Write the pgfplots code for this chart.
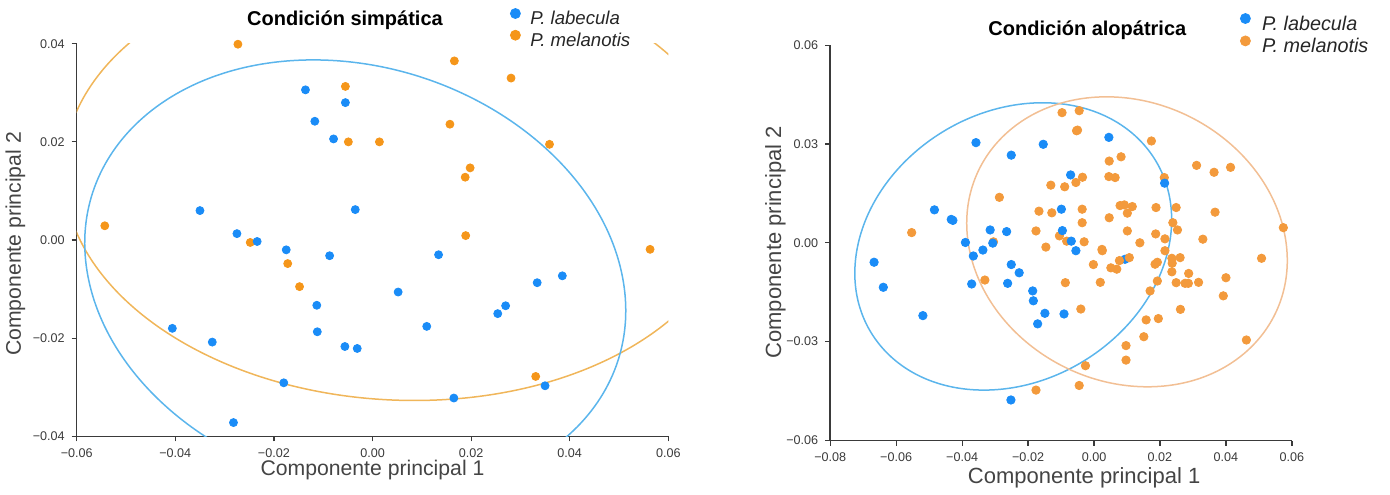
\documentclass[border=0pt]{standalone}
\usepackage{fontspec}
\setmainfont{Liberation Sans}
\usepackage{pgfplots}
\pgfplotsset{compat=1.18}
\definecolor{cblue}{HTML}{1A8CF7}
\definecolor{corange}{HTML}{F5961A}
\definecolor{corange2}{HTML}{F39A3C}
\definecolor{eblue}{HTML}{5BB5EC}
\definecolor{eorange}{HTML}{F0B65A}
\definecolor{eorange2}{HTML}{F2BF94}
\definecolor{axisgray}{HTML}{3A3A3A}
\definecolor{labgray}{HTML}{444444}
\newcommand{\pcaellipse}[7]{%
  \pgfplotsextra{\begin{pgfscope}\pgfsetstrokecolor{#1}\pgfsetlinewidth{0.75pt}%
  \pgfpathellipse{\pgfplotspointaxisxy{#2}{#3}}{\pgfplotspointaxisdirectionxy{#4}{#5}}{\pgfplotspointaxisdirectionxy{#6}{#7}}%
  \pgfusepath{stroke}\end{pgfscope}}}
\pgfplotsset{
  pcaaxis/.style={
    scale only axis,
    scaled ticks=false,
    every axis title shift=0pt,
    axis x line*=bottom, axis y line*=left,
    axis line style={axisgray, line width=0.75pt},
    tick align=outside,
    major tick length=2.5pt,
    tick style={axisgray, line width=0.6pt},
    ticklabel style={font=\fontsize{6.3}{7}\selectfont, text=axisgray},
    legend cell align=left,
    clip=true,
  }
}
\begin{document}
\begin{tikzpicture}
\path[use as bounding box] (0pt,0pt) rectangle (695pt,247pt);
% ---------------- left: simpatrica
\begin{axis}[pcaaxis,
  at={(38.35pt,28.85pt)}, anchor=south west,
  width=295.8pt, height=196.3pt,
  xmin=-0.06, xmax=0.06, ymin=-0.04, ymax=0.04,
  xtick={-0.06,-0.04,-0.02,0,0.02,0.04,0.06},
  xticklabels={−0.06,−0.04,−0.02,0.00,0.02,0.04,0.06},
  ytick={-0.04,-0.02,0,0.02,0.04},
  yticklabels={−0.04,−0.02,0.00,0.02,0.04},
  xlabel={Componente principal 1}, ylabel={Componente principal 2},
  label style={font=\fontsize{10.6}{12}\selectfont, text=labgray},
  xlabel style={at={(axis description cs:0.5,-0.0858)}, anchor=center},
  ylabel style={at={(axis description cs:-0.1035,0.49)}, anchor=center},
  title={Condición simpática},
  title style={font=\bfseries\fontsize{10}{12}\selectfont, at={(axis description cs:0.4535,1.0604)}, anchor=center},
  legend style={draw=none, fill=none, inner sep=0pt, outer sep=0pt,
    font=\itshape\fontsize{9.3}{10}\selectfont, text=black!85,
    at={(axis description cs:0.7324,1.0907)}, anchor=north west,
    column sep=4.5pt, row sep=0pt,
    nodes={inner sep=0.25pt, text height=7pt, text depth=2.2pt}},
]
\addlegendimage{legend image code/.code={\fill[cblue] (0pt,3.3pt) circle (2.5pt);}}
\addlegendentry{P. labecula}
\addlegendimage{legend image code/.code={\fill[corange] (0pt,3.3pt) circle (2.5pt);}}
\addlegendentry{P. melanotis}
\pcaellipse{eorange}{0.0057}{0.0121}{-0.0028}{0.0448}{0.0683}{0}
\pcaellipse{eblue}{-0.0035}{-0.0075}{-0.0085}{0.0442}{0.0542}{0}
\addplot[forget plot, only marks, mark=*, mark size=2pt, color=corange] coordinates {
(-0.0273,0.0399)(0.0166,0.0365)(0.0281,0.0330)(-0.0055,0.0313)(0.0157,0.0236)
(-0.0049,0.0200)(0.0014,0.0200)(0.0359,0.0195)(0.0198,0.0147)(0.0188,0.0128)
(-0.0543,0.0029)(0.0189,0.0009)(-0.0248,-0.0005)(0.0563,-0.0019)(-0.0172,-0.0048)
(-0.0148,-0.0095)(0.0331,-0.0278)
};
\addplot[forget plot, only marks, mark=*, mark size=2pt, color=cblue] coordinates {
(-0.0136,0.0306)(-0.0055,0.0280)(-0.0117,0.0242)(-0.0079,0.0206)(-0.0350,0.0060)
(-0.0035,0.0062)(-0.0275,0.0013)(-0.0234,-0.0003)(-0.0175,-0.0020)(-0.0087,-0.0032)
(0.0134,-0.0030)(0.0385,-0.0073)(0.0334,-0.0087)(0.0052,-0.0106)(-0.0113,-0.0133)
(0.0270,-0.0134)(0.0254,-0.0150)(-0.0406,-0.0180)(0.0110,-0.0176)(-0.0112,-0.0187)
(-0.0325,-0.0208)(-0.0056,-0.0217)(-0.0031,-0.0221)(-0.0180,-0.0291)(0.0350,-0.0297)
(0.0165,-0.0322)(-0.0282,-0.0372)
};
\end{axis}
% ---------------- right: alopatrica
\begin{axis}[pcaaxis,
  at={(415.1pt,26.75pt)}, anchor=south west,
  width=230.85pt, height=197.7pt,
  xmin=-0.08, xmax=0.06, ymin=-0.06, ymax=0.06,
  xtick={-0.08,-0.06,-0.04,-0.02,0,0.02,0.04,0.06},
  xticklabels={−0.08,−0.06,−0.04,−0.02,0.00,0.02,0.04,0.06},
  ytick={-0.06,-0.03,0,0.03,0.06},
  yticklabels={−0.06,−0.03,0.00,0.03,0.06},
  xlabel={Componente principal 1}, ylabel={Componente principal 2},
  label style={font=\fontsize{11}{12}\selectfont, text=labgray},
  xlabel style={at={(axis description cs:0.55,-0.094)}, anchor=center},
  ylabel style={at={(axis description cs:-0.1187,0.501)}, anchor=center},
  title={Condición alopátrica},
  title style={font=\bfseries\fontsize{10}{12}\selectfont, at={(axis description cs:0.557,1.0364)}, anchor=center},
  legend style={draw=none, fill=none, inner sep=0pt, outer sep=0pt,
    font=\itshape\fontsize{9.9}{10}\selectfont, text=black!85,
    at={(axis description cs:0.8876,1.0809)}, anchor=north west,
    column sep=5.5pt, row sep=0pt,
    nodes={inner sep=0.1pt, text height=7.4pt, text depth=2.4pt}},
]
\addlegendimage{legend image code/.code={\fill[cblue] (0pt,3.5pt) circle (2.5pt);}}
\addlegendentry{P. labecula}
\addlegendimage{legend image code/.code={\fill[corange2] (0pt,3.5pt) circle (2.5pt);}}
\addlegendentry{P. melanotis}
\pcaellipse{eblue}{-0.0245}{-0.0011}{0.0089}{0.0436}{0.0472}{0}
\pcaellipse{eorange2}{0.0100}{0.0003}{-0.0062}{0.0440}{0.0482}{0}
\addplot[forget plot, only marks, mark=*, mark size=2.1pt, color=cblue] coordinates {
(0.0094,-0.0050)
};
\addplot[forget plot, only marks, mark=*, mark size=2.1pt, color=corange2] coordinates {
(-0.0553,0.0031)(-0.0287,0.0138)(-0.0131,0.0175)(-0.0167,0.0096)(-0.0128,0.0091)
(-0.0176,0.0036)(-0.0146,-0.0013)(-0.0305,0.0003)(-0.0097,0.0395)(-0.0045,0.0401)
(-0.0053,0.0340)(-0.0050,0.0342)(0.0174,0.0309)(0.0046,0.0248)(0.0082,0.0261)
(0.0311,0.0235)(0.0364,0.0214)(0.0414,0.0229)(-0.0035,0.0199)(-0.0055,0.0183)
(-0.0089,0.0170)(0.0045,0.0201)(0.0064,0.0198)(0.0213,0.0198)(0.0079,0.0113)
(0.0092,0.0115)(0.0116,0.0110)(0.0101,0.0090)(0.0188,0.0107)(0.0249,0.0107)
(0.0367,0.0093)(-0.0036,0.0102)(-0.0036,0.0061)(0.0046,0.0076)(0.0574,0.0046)
(0.0239,0.0061)(0.0253,0.0039)(0.0101,0.0036)(0.0187,0.0027)(0.0330,0.0011)
(0.0215,0.0012)(0.0139,0.0000)(-0.0105,0.0021)(-0.0083,0.0005)(-0.0030,0.0003)
(0.0024,-0.0020)(0.0025,-0.0024)(0.0215,-0.0024)(0.0508,-0.0047)(-0.0002,-0.0066)
(0.0051,-0.0076)(0.0069,-0.0080)(0.0077,-0.0054)(0.0107,-0.0045)(0.0185,-0.0065)
(0.0192,-0.0059)(0.0236,-0.0047)(0.0237,-0.0062)(0.0261,-0.0045)(0.0236,-0.0088)
(0.0287,-0.0093)(-0.0087,-0.0121)(0.0019,-0.0120)(0.0192,-0.0116)(0.0249,-0.0121)
(0.0276,-0.0123)(0.0286,-0.0123)(0.0317,-0.0120)(0.0400,-0.0106)(0.0392,-0.0161)
(0.0170,-0.0146)(-0.0040,-0.0201)(0.0262,-0.0202)(0.0158,-0.0234)(0.0195,-0.0230)
(0.0151,-0.0285)(0.0462,-0.0295)(0.0097,-0.0312)(0.0097,-0.0356)(-0.0026,-0.0373)
(-0.0045,-0.0433)(-0.0176,-0.0447)(-0.0331,-0.0113)
};
\addplot[forget plot, only marks, mark=*, mark size=2.1pt, color=cblue] coordinates {
(-0.0358,0.0304)(-0.0154,0.0299)(-0.0251,0.0266)(-0.0484,0.0100)(-0.0433,0.0071)
(-0.0428,0.0068)(-0.0315,0.0039)(-0.0265,0.0034)(-0.0390,0.0001)(-0.0307,-0.0001)
(-0.0337,-0.0022)(-0.0366,-0.0040)(-0.0667,-0.0059)(-0.0639,-0.0135)(-0.0519,-0.0221)
(-0.0371,-0.0125)(-0.0251,-0.0066)(-0.0227,-0.0091)(-0.0262,-0.0123)(-0.0186,-0.0146)
(-0.0184,-0.0176)(-0.0149,-0.0214)(-0.0091,-0.0216)(-0.0171,-0.0246)(-0.0252,-0.0477)
(0.0045,0.0320)(-0.0071,0.0206)(0.0214,0.0181)(-0.0099,0.0102)(-0.0096,0.0037)
(-0.0069,0.0005)(-0.0055,-0.0024)
};
\end{axis}
\end{tikzpicture}
\end{document}
